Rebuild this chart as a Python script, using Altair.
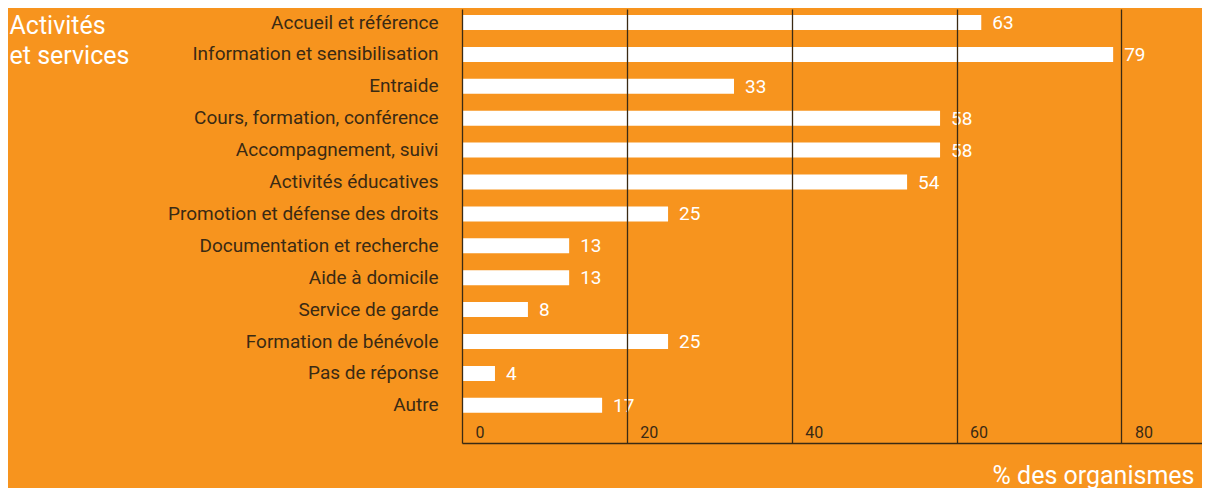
import altair as alt
import pandas as pd

categories = [
    "Accueil et référence",
    "Information et sensibilisation",
    "Entraide",
    "Cours, formation, conférence",
    "Accompagnement, suivi",
    "Activités éducatives",
    "Promotion et défense des droits",
    "Documentation et recherche",
    "Aide à domicile",
    "Service de garde",
    "Formation de bénévole",
    "Pas de réponse",
    "Autre",
]
values = [63, 79, 33, 58, 58, 54, 25, 13, 13, 8, 25, 4, 17]
tick_values = [0, 20, 40, 60, 80]
y_title = ["Activités", "et services"]
x_title = "% des organismes"

df = pd.DataFrame({"cat": categories, "val": values})

ORANGE = "#F7941E"
DARK = "#3A2A14"
FONT = "Roboto"

x = alt.X(
    "val:Q",
    scale=alt.Scale(domain=[0, 89.78], nice=False, zero=True),
    axis=alt.Axis(
        values=tick_values,
        title=x_title,
        titleFont=FONT,
        titleFontSize=25,
        titleFontWeight="normal",
        titleColor="white",
        titleAlign="right",
        titleBaseline="alphabetic",
        titleX=732,
        titleY=40,
        labelFont=FONT,
        labelFontSize=16,
        labelColor=DARK,
        labelAlign="left",
        labelBaseline="alphabetic",
        labelOffset=13,
        labelPadding=-5.5,
        labelFlush=False,
        ticks=False,
        grid=True,
        gridColor=DARK,
        gridWidth=1.3,
        gridOpacity=1,
        domain=True,
        domainColor=DARK,
        domainWidth=1.5,
        zindex=1,
    ),
)

y = alt.Y(
    "cat:N",
    sort=categories,
    scale=alt.Scale(paddingInner=0.53, paddingOuter=0.5675, align=0.166),
    axis=alt.Axis(
        title=y_title,
        titleFont=FONT,
        titleFontSize=25,
        titleFontWeight="normal",
        titleColor="white",
        titleAngle=0,
        titleAlign="left",
        titleBaseline="alphabetic",
        titleX=-453,
        titleY=24,
        titleLineHeight=30,
        labelFont=FONT,
        labelFontSize=19,
        labelColor=DARK,
        labelPadding=24,
        labelLimit=400,
        ticks=False,
        domain=False,
        grid=False,
    ),
)

base = alt.Chart(df).encode(x=x, y=y)

bars = base.mark_bar(color="white")
labels = base.mark_text(
    align="left", baseline="middle", dx=11, dy=0.5, color="white", font=FONT, fontSize=19
).encode(text="val:Q")

chart = (
    alt.layer(bars, labels)
    .properties(
        width=740,
        height=434,
        background=ORANGE,
        padding={"left": 454, "top": 1, "right": 0, "bottom": 45},
        autosize=alt.AutoSizeParams(type="none"),
    )
    .configure_view(stroke=None)
)

chart.save("out.html", embed_options={"renderer": "svg", "actions": False})
